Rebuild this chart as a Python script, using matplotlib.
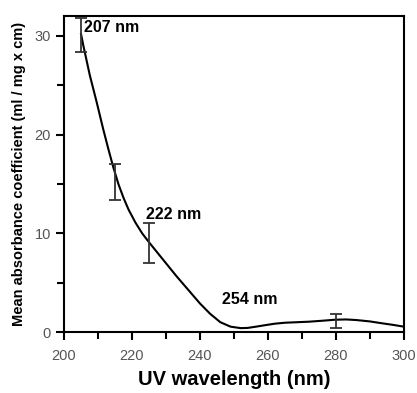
import matplotlib
matplotlib.use("Agg")
import matplotlib.pyplot as plt
from matplotlib.ticker import MultipleLocator

plt.rcParams["font.family"] = ["Liberation Sans", "DejaVu Sans"]

# smooth absorbance curve
curve_x = [205, 205.7, 207.6, 209.6, 211.5, 213, 214.5, 216, 217.5, 219,
           221, 223, 225, 229, 233, 236.5, 240, 243, 246, 249, 252,
           254, 256.5, 259.2, 262, 265.1, 268.5, 272, 276, 279.7, 283,
           286, 290, 293.4, 297, 300]
curve_y = [30.2, 29.0, 26.0, 23.3, 20.6, 18.6, 16.7, 15.0, 13.6, 12.4,
           11.1, 10.0, 9.1, 7.4, 5.7, 4.3, 2.9, 1.85, 1.0, 0.55, 0.4,
           0.42, 0.55, 0.7, 0.85, 0.95, 1.0, 1.05, 1.15, 1.25, 1.28,
           1.22, 1.08, 0.9, 0.72, 0.55]

# measured points with error bars
pt_x = [205, 215, 225, 280]
pt_y = [30.1, 15.2, 9.0, 1.15]
pt_err = [1.7, 1.8, 2.0, 0.7]

# peak labels
lab_text = ["207 nm", "222 nm", "254 nm"]
lab_x = [206, 224.2, 246.6]
lab_y = [30.8, 11.9, 3.3]

fig = plt.figure(figsize=(4.17, 3.93), dpi=100)
ax = fig.add_axes([0.1535, 0.155, 0.815, 0.804])

ax.plot(curve_x, curve_y, color="black", lw=1.5)
ax.errorbar(pt_x, pt_y, yerr=pt_err, fmt="none", ecolor="#333333",
            elinewidth=1.3, capsize=4, capthick=1.3)

for t, x, y in zip(lab_text, lab_x, lab_y):
    ax.text(x, y, t, fontsize=11.5, fontweight="bold", va="center", ha="left")

ax.set_xlim(200, 300)
ax.set_ylim(0, 32)
ax.xaxis.set_major_locator(MultipleLocator(20))
ax.xaxis.set_minor_locator(MultipleLocator(10))
ax.yaxis.set_major_locator(MultipleLocator(10))
ax.yaxis.set_minor_locator(MultipleLocator(5))
ax.tick_params(which="both", direction="out", width=1.5, colors="black",
               labelcolor="#555555", labelsize=10.5)
ax.tick_params(which="major", length=6)
ax.tick_params(which="minor", length=5)
ax.tick_params(axis="x", pad=6)

for s in ax.spines.values():
    s.set_linewidth(1.5)

ax.set_xlabel("UV wavelength (nm)", fontsize=14.5, fontweight="bold", labelpad=5)
ax.set_ylabel("Mean absorbance coefficient (ml / mg x cm)", fontsize=10.5,
              fontweight="bold", labelpad=6)

fig.savefig("out.png", dpi=100)
